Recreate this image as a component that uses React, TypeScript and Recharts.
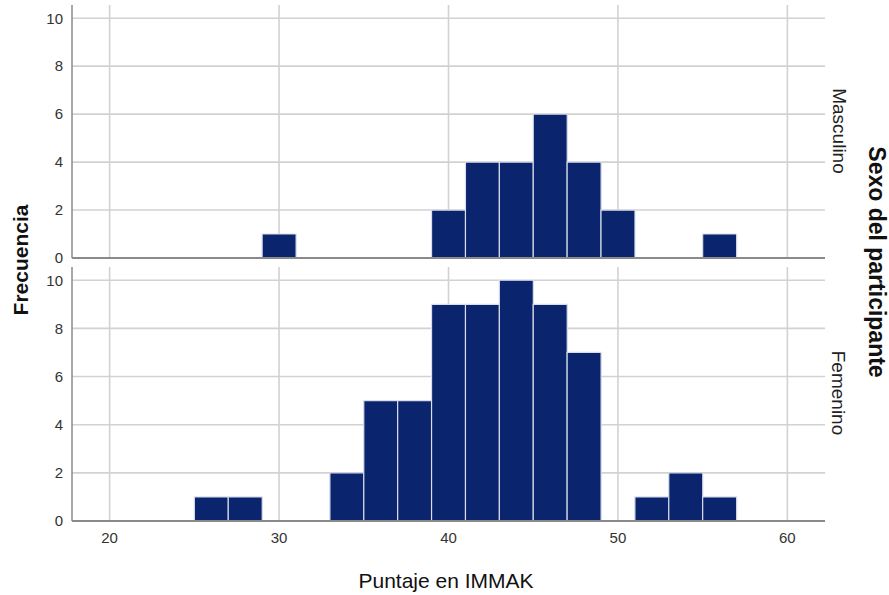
import React from 'react';
import { BarChart, Bar, XAxis, YAxis, CartesianGrid } from 'recharts';

const bins = [18, 20, 22, 24, 26, 28, 30, 32, 34, 36, 38, 40, 42, 44, 46, 48, 50, 52, 54, 56, 58, 60, 62];
const masculino = [0, 0, 0, 0, 0, 0, 1, 0, 0, 0, 0, 2, 4, 4, 6, 4, 2, 0, 0, 1, 0, 0, 0];
const femenino = [0, 0, 0, 0, 1, 1, 0, 0, 2, 5, 5, 9, 9, 10, 9, 7, 0, 1, 2, 1, 0, 0, 0];
const xTicks = [20, 30, 40, 50, 60];
const yTicks = [0, 2, 4, 6, 8, 10];
const panelLabels = ['Masculino', 'Femenino'];
const xTitle = 'Puntaje en IMMAK';
const yTitle = 'Frecuencia';
const panelTitle = 'Sexo del participante';

const X_DOMAIN: [number, number] = [17.78, 62.22];
const Y_DOMAIN: [number, number] = [0, 10.55];
const BAR_FILL = '#0b246e';
const BAR_STROKE = '#d9deea';
const GRID = '#d2d2d2';
const AXIS = '#8a8a8a';
const FONT = '"Liberation Sans", Arial, sans-serif';

const topData = bins.map((b, i) => ({ bin: b, count: masculino[i] }));
const botData = bins.map((b, i) => ({ bin: b, count: femenino[i] }));

const tickStyle = { fontSize: 15, fill: '#333', fontFamily: FONT };

function applyScale(axis: any, v: number, fallback: () => number): number {
  const s = axis && axis.scale;
  if (typeof s === 'function') return s(v);
  if (s && typeof s.map === 'function') return s.map(v);
  return fallback();
}

const vGen = (props: any) =>
  xTicks.map((t) =>
    applyScale(props.xAxis, t, () => {
      const o = props.offset;
      return o.left + (o.width * (t - X_DOMAIN[0])) / (X_DOMAIN[1] - X_DOMAIN[0]);
    })
  );
const hGen = (props: any) =>
  yTicks.map((t) =>
    applyScale(props.yAxis, t, () => {
      const o = props.offset;
      return o.top + o.height * (1 - (t - Y_DOMAIN[0]) / (Y_DOMAIN[1] - Y_DOMAIN[0]));
    })
  );

function Panel({ data, height, margin, showX }: { data: any[]; height: number; margin: any; showX: boolean }) {
  return (
    <BarChart width={889} height={height} data={data} margin={margin} barCategoryGap={0} barGap={0}>
      <CartesianGrid
        stroke={GRID}
        strokeWidth={1.6}
        vertical
        horizontal
        verticalCoordinatesGenerator={vGen}
        horizontalCoordinatesGenerator={hGen}
      />
      <XAxis
        dataKey="bin"
        type="number"
        domain={X_DOMAIN}
        allowDataOverflow
        ticks={xTicks}
        interval={0}
        height={showX ? 30 : 4}
        tick={showX ? tickStyle : false}
        tickLine={false}
        tickSize={0}
        tickMargin={11}
        axisLine={{ stroke: AXIS, strokeWidth: 2 }}
      />
      <YAxis
        type="number"
        domain={Y_DOMAIN}
        allowDataOverflow
        ticks={yTicks}
        interval={0}
        width={40}
        tick={tickStyle}
        tickLine={false}
        tickSize={0}
        tickMargin={9}
        axisLine={{ stroke: AXIS, strokeWidth: 1.5 }}
      />
      <Bar dataKey="count" fill={BAR_FILL} stroke={BAR_STROKE} strokeWidth={1.2} isAnimationActive={false} />
    </BarChart>
  );
}

export default function App() {
  return (
    <div style={{ position: 'absolute', left: 0, top: 0, width: 889, height: 595, background: '#fff', fontFamily: FONT }}>
      <div style={{ position: 'absolute', left: 0, top: 262 }}>
        <Panel data={botData} height={333} margin={{ top: 5, right: 64, left: 32, bottom: 44 }} showX={true} />
      </div>
      <div style={{ position: 'absolute', left: 0, top: 0 }}>
        <Panel data={topData} height={268} margin={{ top: 5, right: 64, left: 32, bottom: 6 }} showX={false} />
      </div>
      <svg width={889} height={595} style={{ position: 'absolute', left: 0, top: 0, pointerEvents: 'none' }}>
        <text x={20} y={260} transform="rotate(-90 20 260)" textAnchor="middle" dominantBaseline="central"
          style={{ fontFamily: FONT, fontSize: 21, fontWeight: 'bold', fill: '#111' }}>{yTitle}</text>
        <text x={877} y={262} transform="rotate(90 877 262)" textAnchor="middle" dominantBaseline="central"
          style={{ fontFamily: FONT, fontSize: 23, fontWeight: 'bold', fill: '#111' }}>{panelTitle}</text>
        <text x={839} y={131} transform="rotate(90 839 131)" textAnchor="middle" dominantBaseline="central"
          style={{ fontFamily: FONT, fontSize: 19, fill: '#222' }}>{panelLabels[0]}</text>
        <text x={838} y={393} transform="rotate(90 838 393)" textAnchor="middle" dominantBaseline="central"
          style={{ fontFamily: FONT, fontSize: 19, fill: '#222' }}>{panelLabels[1]}</text>
        <text x={446} y={588} textAnchor="middle"
          style={{ fontFamily: FONT, fontSize: 21, fill: '#111' }}>{xTitle}</text>
      </svg>
    </div>
  );
}
